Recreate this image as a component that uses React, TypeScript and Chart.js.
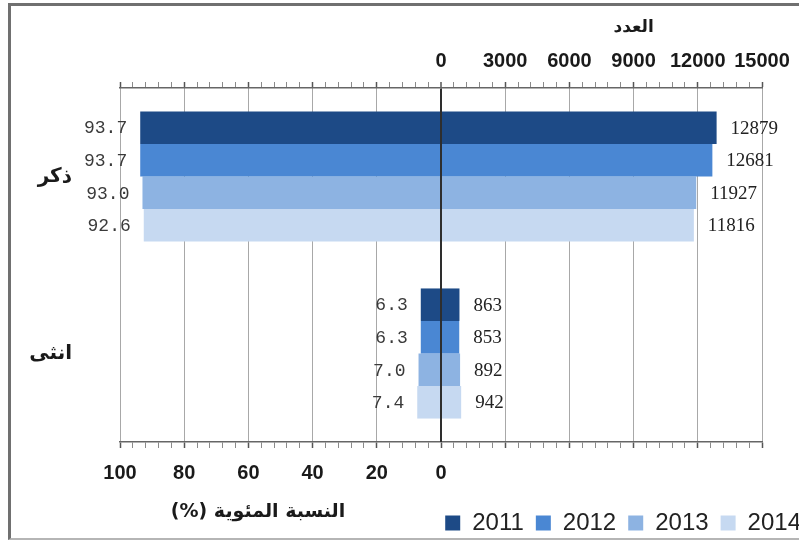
import React, { useEffect, useRef } from 'react';
import { Chart, registerables } from 'chart.js';

Chart.register(...registerables);

// ---- data ----
const categories = ['ذكر', 'انثى'];
const years = ['2011', '2012', '2013', '2014'];

const pct2011 = [93.7, 6.3];
const pct2012 = [93.7, 6.3];
const pct2013 = [93.0, 7.0];
const pct2014 = [92.6, 7.4];

const cnt2011 = [12879, 863];
const cnt2012 = [12681, 853];
const cnt2013 = [11927, 892];
const cnt2014 = [11816, 942];

const pctTickLabels = [100, 80, 60, 40, 20, 0];
const cntTickLabels = [0, 3000, 6000, 9000, 12000, 15000];

const topTitle = 'العدد';
const bottomTitle = 'النسبة المئوية (%)';

const colors = ['#1d4a86', '#4a87d3', '#8db3e2', '#c6d9f1'];

const pctSeries = [pct2011, pct2012, pct2013, pct2014];
const cntSeries = [cnt2011, cnt2012, cnt2013, cnt2014];

const SANS = '"Liberation Sans", Arial, "DejaVu Sans", sans-serif';
const ARABIC = '"DejaVu Sans", "Liberation Sans", sans-serif';

const valueLabelPlugin = {
  id: 'valueLabels',
  afterDatasetsDraw(chart: any) {
    const ctx = chart.ctx;
    ctx.save();
    ctx.textBaseline = 'middle';
    chart.data.datasets.forEach((ds: any, di: number) => {
      const meta = chart.getDatasetMeta(di);
      meta.data.forEach((bar: any, i: number) => {
        const v = ds.data[i];
        if (ds.kind === 'pct') {
          ctx.font = '18px "Liberation Mono", "Courier New", monospace';
          ctx.fillStyle = '#3a3a3a';
          ctx.textAlign = 'right';
          ctx.fillText(Math.abs(v).toFixed(1), bar.x - 13, bar.y + 1);
        } else {
          ctx.font = '19px "Liberation Serif", "Times New Roman", serif';
          ctx.fillStyle = '#222';
          ctx.textAlign = 'left';
          ctx.fillText(String(v), bar.x + 14, bar.y + 1);
        }
      });
    });
    ctx.restore();
  },
};

const axisTitlePlugin = {
  id: 'axisTitles',
  afterDraw(chart: any) {
    const ctx = chart.ctx;
    const xc = chart.scales.xCnt;
    const xp = chart.scales.xPct;
    ctx.save();
    ctx.fillStyle = '#1a1a1a';
    ctx.textAlign = 'center';
    ctx.textBaseline = 'middle';
    (ctx as any).direction = 'rtl';
    ctx.font = 'bold 17px ' + ARABIC;
    ctx.fillText(topTitle, xc.getPixelForValue(9000), xc.top + 28);
    ctx.font = 'bold 19px ' + ARABIC;
    ctx.fillText(bottomTitle, xp.getPixelForValue(-57), xp.bottom + 13);
    ctx.restore();
  },
};

export default function App() {
  const ref = useRef<HTMLCanvasElement>(null);

  useEffect(() => {
    const datasets: any[] = [];
    years.forEach((y, i) => {
      datasets.push({
        label: y,
        kind: 'pct',
        data: pctSeries[i].map((v) => -v),
        xAxisID: 'xPct',
        yAxisID: 'y',
        stack: y,
        backgroundColor: colors[i],
        borderWidth: 0,
      });
      datasets.push({
        label: y + ' count',
        kind: 'cnt',
        data: cntSeries[i],
        xAxisID: 'xCnt',
        yAxisID: 'y',
        stack: y,
        backgroundColor: colors[i],
        borderWidth: 0,
      });
    });

    const chart = new Chart(ref.current as HTMLCanvasElement, {
      type: 'bar',
      data: { labels: categories, datasets },
      plugins: [valueLabelPlugin, axisTitlePlugin],
      options: {
        responsive: false,
        animation: false,
        indexAxis: 'y',
        layout: { padding: 0 },
        datasets: { bar: { categoryPercentage: 0.735, barPercentage: 1 } },
        plugins: {
          tooltip: { enabled: false },
          legend: {
            position: 'bottom',
            align: 'end',
            labels: {
              boxWidth: 15,
              boxHeight: 15,
              padding: 12,
              color: '#222',
              font: { size: 24, family: SANS },
              filter: (item: any, data: any) => data.datasets[item.datasetIndex].kind === 'pct',
            },
          },
        },
        scales: {
          y: {
            type: 'category',
            position: 'left',
            offset: true,
            grid: { display: false, drawTicks: false },
            border: { display: false },
            ticks: {
              padding: 48,
              color: '#1a1a1a',
              font: { size: 20, weight: 'bold', family: ARABIC },
            },
            afterFit: (s: any) => {
              s.width = 120;
            },
          },
          yR: {
            type: 'category',
            position: 'right',
            grid: { display: false, drawTicks: false },
            border: { display: false },
            ticks: { display: false },
            afterFit: (s: any) => {
              s.width = 51;
            },
          },
          xPct: {
            type: 'linear',
            position: 'bottom',
            min: -100,
            max: 100,
            stacked: false,
            grid: {
              color: (c: any) => (Math.round(c.tick.value) % 20 === 0 ? '#a8a8a8' : 'transparent'),
              lineWidth: 1,
              tickLength: 6,
              tickWidth: (c: any) => (Math.round(c.tick.value) % 20 === 0 ? 1.5 : 1),
              tickColor: (c: any) => (Math.round(c.tick.value) % 20 === 0 ? '#555' : '#8a8a8a'),
            },
            border: { color: '#666', width: 1.5 },
            ticks: {
              stepSize: 4,
              autoSkip: false,
              maxRotation: 0,
              minRotation: 0,
              padding: 13,
              color: '#1a1a1a',
              font: { size: 20, weight: 'bold', family: SANS },
              callback: (value: any) => {
                const v = Math.round(Number(value));
                return v <= 0 && pctTickLabels.includes(-v) ? String(Math.abs(v)) : '';
              },
            },
            afterFit: (s: any) => {
              s.height = 57;
            },
          },
          xCnt: {
            type: 'linear',
            position: 'top',
            min: -15000,
            max: 15000,
            stacked: false,
            grid: {
              z: 1,
              drawOnChartArea: true,
              color: (c: any) => (c.tick.value === 0 ? '#2e2e2e' : 'transparent'),
              lineWidth: (c: any) => (c.tick.value === 0 ? 2 : 1),
              tickLength: 6,
              tickWidth: (c: any) => (Math.round(c.tick.value) % 3000 === 0 ? 1.5 : 1),
              tickColor: (c: any) => (Math.round(c.tick.value) % 3000 === 0 ? '#555' : '#8a8a8a'),
            },
            border: { color: '#666', width: 1.5, z: 1 },
            ticks: {
              stepSize: 600,
              autoSkip: false,
              maxRotation: 0,
              minRotation: 0,
              padding: 9,
              color: '#1a1a1a',
              font: { size: 20, weight: 'bold', family: SANS },
              callback: (value: any) => {
                const v = Math.round(Number(value));
                return cntTickLabels.includes(v) ? String(v) : '';
              },
            },
            afterFit: (s: any) => {
              s.height = 88;
            },
          },
        },
      } as any,
    });
    return () => chart.destroy();
  }, []);

  return (
    <div
      style={{
        position: 'fixed',
        left: 0,
        top: 0,
        width: 799,
        height: 542,
        overflow: 'hidden',
        background: '#fff',
      }}
    >
      <div
        style={{
          position: 'absolute',
          left: 8,
          top: 3,
          width: 1000,
          height: 532,
          borderLeft: '3px solid #707070',
          borderTop: '3px solid #707070',
          borderBottom: '2px solid #b5b5b5',
        }}
      />
      <canvas
        ref={ref}
        width={813}
        height={545}
        style={{ position: 'absolute', left: 0, top: 0, width: 813, height: 545 }}
      />
    </div>
  );
}
